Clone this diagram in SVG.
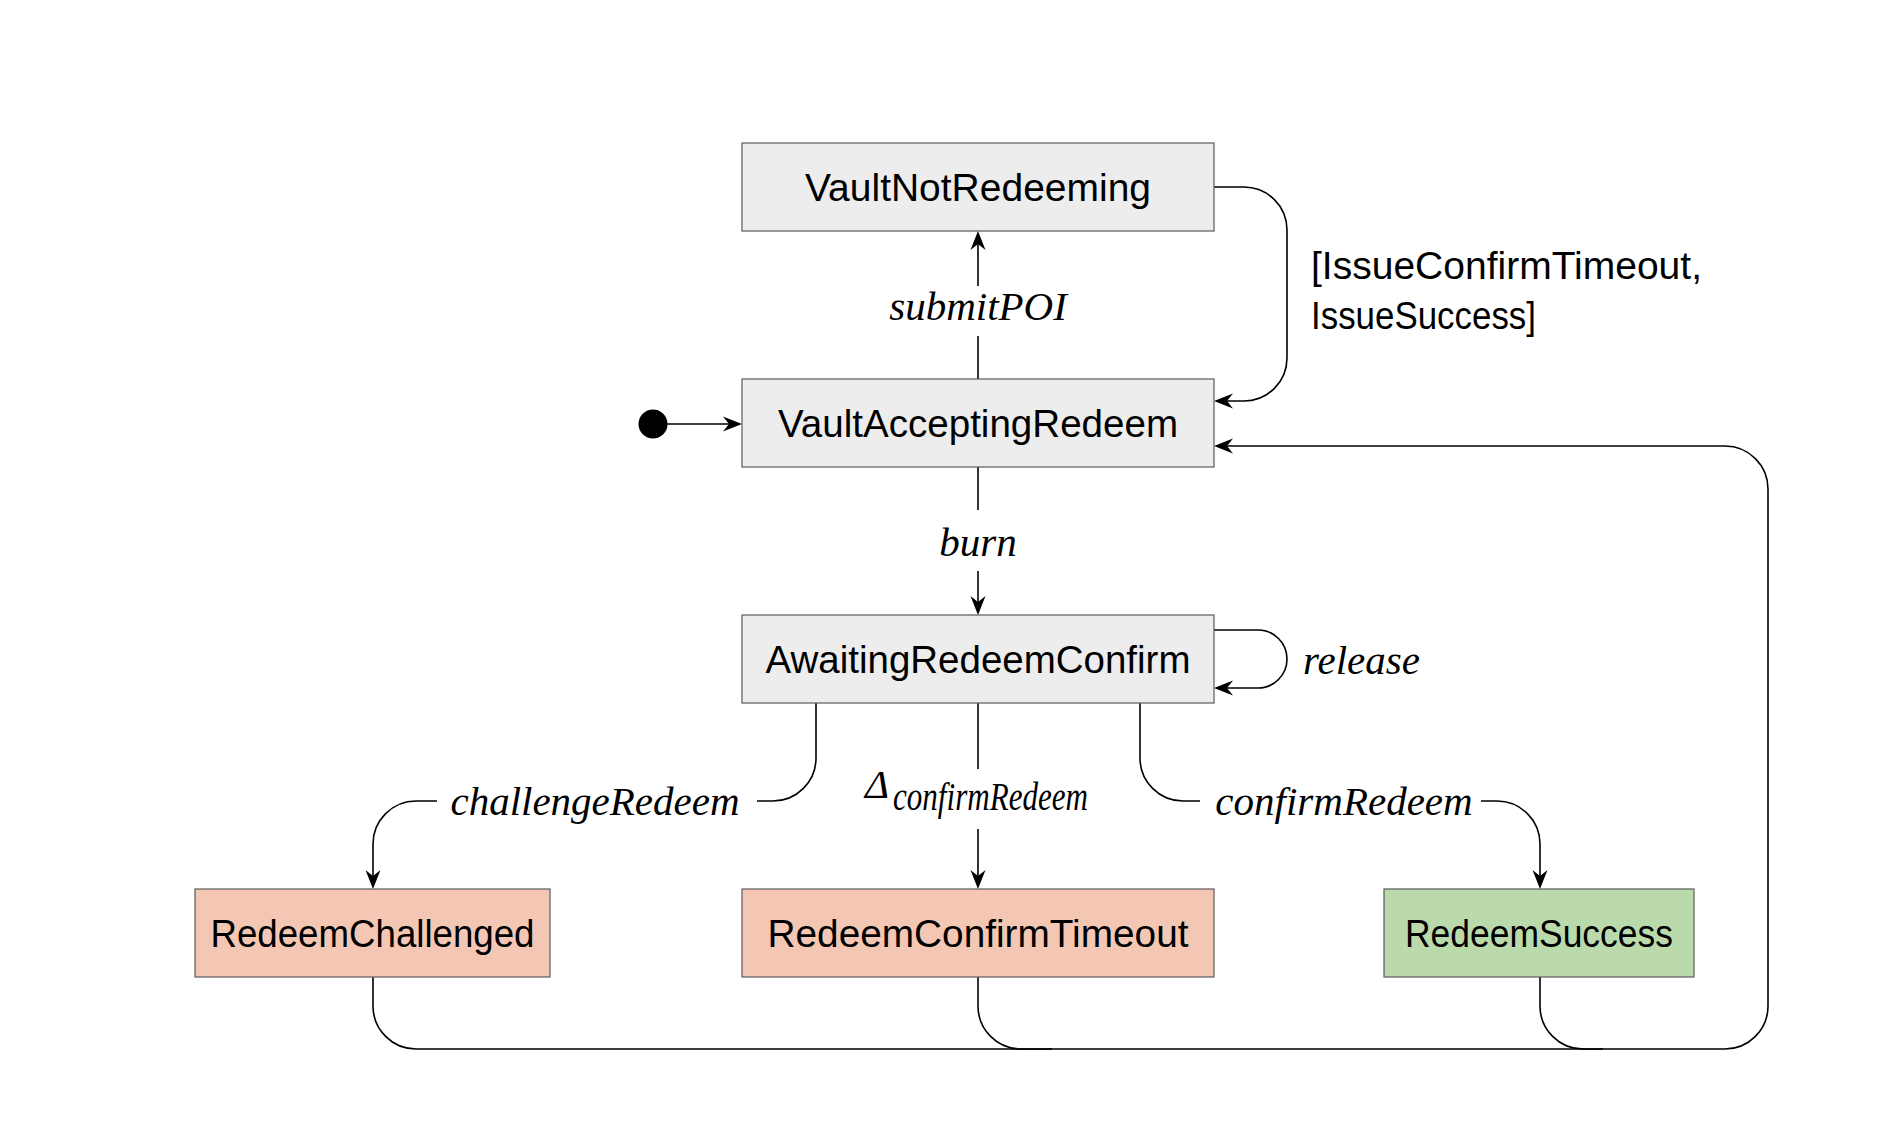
<svg xmlns="http://www.w3.org/2000/svg" xmlns:xlink="http://www.w3.org/1999/xlink" width="1904" height="1134" viewBox="0 0 1904 1134">
<style>
.box{stroke:#5a5a5a;stroke-width:1.2}
.gray{fill:#ededed}
.red{fill:#f4c7b5}
.green{fill:#bbdaac}
.nt{font-family:"Liberation Sans",Arial,sans-serif;font-size:38px;fill:#000;text-anchor:middle}
.gt{font-family:"Liberation Sans",Arial,sans-serif;font-size:38px;fill:#000}
.lt{font-family:"Liberation Serif","Times New Roman",serif;font-style:italic;font-size:41px;fill:#000}
.e{fill:none;stroke:#000;stroke-width:1.6}
.ah{fill:#000}
</style>
<defs>
<path id="ah" d="M0,0 L-19,-7.5 L-13,0 L-19,7.5 Z"/>
</defs>
<rect width="1904" height="1134" fill="#fff"/>
<g id="connectors">
<line class="e" x1="978" y1="379" x2="978" y2="336"/>
<line class="e" x1="978" y1="286" x2="978" y2="240"/>
<use class="ah" href="#ah" xlink:href="#ah" transform="translate(978,231) rotate(-90)"/>
<path class="e" d="M1214,187 H1244 A43,43 0 0 1 1287,230 V358 A43,43 0 0 1 1244,401 H1222"/>
<use class="ah" href="#ah" xlink:href="#ah" transform="translate(1214,401) rotate(180)"/>
<line class="e" x1="667" y1="424" x2="734" y2="424"/>
<use class="ah" href="#ah" xlink:href="#ah" transform="translate(742,424)"/>
<line class="e" x1="978" y1="467" x2="978" y2="510"/>
<line class="e" x1="978" y1="571" x2="978" y2="606"/>
<use class="ah" href="#ah" xlink:href="#ah" transform="translate(978,615) rotate(90)"/>
<path class="e" d="M1214,630 H1258 A29,29 0 0 1 1258,688 H1222"/>
<use class="ah" href="#ah" xlink:href="#ah" transform="translate(1214,688) rotate(180)"/>
<path class="e" d="M816,703 V758 A43,43 0 0 1 773,801 H757"/>
<path class="e" d="M437,801 H416 A43,43 0 0 0 373,844 V880"/>
<use class="ah" href="#ah" xlink:href="#ah" transform="translate(373,889) rotate(90)"/>
<line class="e" x1="978" y1="703" x2="978" y2="769"/>
<line class="e" x1="978" y1="829" x2="978" y2="880"/>
<use class="ah" href="#ah" xlink:href="#ah" transform="translate(978,889) rotate(90)"/>
<path class="e" d="M1140,703 V758 A43,43 0 0 0 1183,801 H1200"/>
<path class="e" d="M1481,801 H1497 A43,43 0 0 1 1540,844 V880"/>
<use class="ah" href="#ah" xlink:href="#ah" transform="translate(1540,889) rotate(90)"/>
<path class="e" d="M373,977 V1006 A43,43 0 0 0 416,1049 H1052"/>
<path class="e" d="M978,977 V1006 A43,43 0 0 0 1021,1049 H1603"/>
<path class="e" d="M1540,977 V1006 A43,43 0 0 0 1583,1049 H1725 A43,43 0 0 0 1768,1006 V489 A43,43 0 0 0 1725,446 H1222"/>
<use class="ah" href="#ah" xlink:href="#ah" transform="translate(1214,446) rotate(180)"/>
</g>
<g id="labels">
<text class="lt" x="978" y="320" text-anchor="middle">submitPOI</text>
<text class="gt" x="1311" y="279" textLength="391" lengthAdjust="spacingAndGlyphs">[IssueConfirmTimeout,</text>
<text class="gt" x="1311" y="329" textLength="225" lengthAdjust="spacingAndGlyphs">IssueSuccess]</text>
<text class="lt" x="978" y="556" text-anchor="middle">burn</text>
<text class="lt" x="1303" y="674">release</text>
<text class="lt" x="595" y="815" text-anchor="middle">challengeRedeem</text>
<text class="lt" x="865" y="798">Δ</text>
<text class="lt" x="893" y="810" font-size="30" textLength="195" lengthAdjust="spacingAndGlyphs">confirmRedeem</text>
<text class="lt" x="1344" y="815" text-anchor="middle">confirmRedeem</text>
</g>
<g id="initial">
<circle cx="653" cy="424" r="14.5" fill="#000"/>
</g>
<g id="VaultNotRedeeming">
<rect class="box gray" x="742" y="143" width="472" height="88"/>
<text class="nt" x="978" y="201" textLength="346" lengthAdjust="spacingAndGlyphs">VaultNotRedeeming</text>
</g>
<g id="VaultAcceptingRedeem">
<rect class="box gray" x="742" y="379" width="472" height="88"/>
<text class="nt" x="978" y="437" textLength="400" lengthAdjust="spacingAndGlyphs">VaultAcceptingRedeem</text>
</g>
<g id="AwaitingRedeemConfirm">
<rect class="box gray" x="742" y="615" width="472" height="88"/>
<text class="nt" x="978" y="673" textLength="425" lengthAdjust="spacingAndGlyphs">AwaitingRedeemConfirm</text>
</g>
<g id="RedeemChallenged">
<rect class="box red" x="195" y="889" width="355" height="88"/>
<text class="nt" x="372.5" y="947" textLength="324" lengthAdjust="spacingAndGlyphs">RedeemChallenged</text>
</g>
<g id="RedeemConfirmTimeout">
<rect class="box red" x="742" y="889" width="472" height="88"/>
<text class="nt" x="978" y="947" textLength="421" lengthAdjust="spacingAndGlyphs">RedeemConfirmTimeout</text>
</g>
<g id="RedeemSuccess">
<rect class="box green" x="1384" y="889" width="310" height="88"/>
<text class="nt" x="1539" y="947" textLength="268" lengthAdjust="spacingAndGlyphs">RedeemSuccess</text>
</g>
</svg>
